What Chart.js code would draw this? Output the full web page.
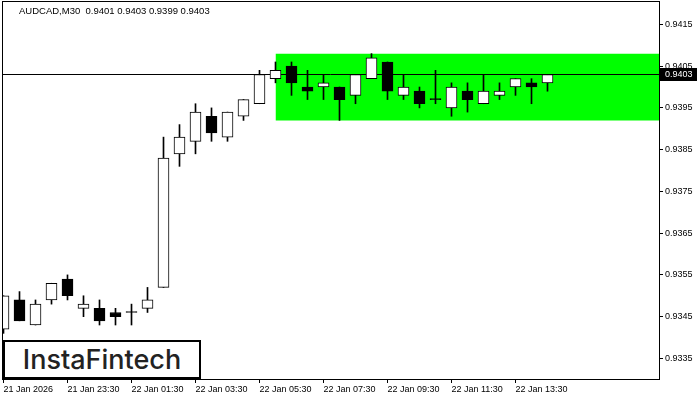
<!DOCTYPE html>
<html lang="en">
<head>
    <meta charset="UTF-8">
    <title>AUDCAD M30</title>
    <script src="https://cdn.jsdelivr.net/npm/chart.js"></script>
    <style>
        body { margin: 0; background: #fff; }
        #wrap { position: relative; width: 700px; height: 400px; }
        #header { position: absolute; left: 19px; top: 5px; font: 9.5px "Liberation Sans", sans-serif; color: #000; white-space: pre; }
        #logo { position: absolute; left: 3px; top: 340px; width: 198px; height: 39px; box-sizing: border-box;
                border: 2px solid #000; background: #fff; font: 500 27px "Inter", sans-serif; color: #222;
                text-align: center; line-height: 35px; }
    </style>
</head>
<body>
<div id="wrap">
    <canvas id="priceChart"></canvas>
    <div id="header"></div>
    <div id="logo">InstaFintech</div>
</div>

<script>
    const symbol = 'AUDCAD,M30';
    const opens  = [0.9342, 0.9349, 0.9343, 0.9349, 0.9354, 0.9347, 0.9347, 0.9346, 0.9346, 0.9347,
                    0.9352, 0.9384, 0.9387, 0.9393, 0.9388, 0.9393, 0.9396, 0.9402, 0.9405, 0.9400,
                    0.9400, 0.9400, 0.9398, 0.9402, 0.9406, 0.9398, 0.9399, 0.9397, 0.9395, 0.9399,
                    0.9396, 0.9398, 0.9400, 0.9401, 0.9401];
    const highs  = [0.9350, 0.9351, 0.9349, 0.9353, 0.9355, 0.9350, 0.9349, 0.9347, 0.9348, 0.9352,
                    0.9388, 0.9391, 0.9396, 0.9395, 0.9394, 0.9397, 0.9404, 0.9406, 0.9406, 0.9404,
                    0.9403, 0.9400, 0.9403, 0.9408, 0.9406, 0.9403, 0.9400, 0.9404, 0.9401, 0.9401,
                    0.9403, 0.9401, 0.9402, 0.9402, 0.9403];
    const lows   = [0.9341, 0.9344, 0.9343, 0.9348, 0.9349, 0.9345, 0.9343, 0.9343, 0.9343, 0.9346,
                    0.9352, 0.9381, 0.9384, 0.9387, 0.9387, 0.9392, 0.9396, 0.9401, 0.9398, 0.9397,
                    0.9397, 0.9392, 0.9396, 0.9402, 0.9397, 0.9397, 0.9395, 0.9396, 0.9393, 0.9394,
                    0.9396, 0.9397, 0.9398, 0.9396, 0.9399];
    const closes = [0.9350, 0.9344, 0.9348, 0.9353, 0.9350, 0.9348, 0.9344, 0.9345, 0.9346, 0.9349,
                    0.9383, 0.9388, 0.9394, 0.9389, 0.9394, 0.9397, 0.9403, 0.9404, 0.9401, 0.9399,
                    0.9401, 0.9397, 0.9403, 0.9407, 0.9399, 0.9400, 0.9396, 0.9397, 0.9400, 0.9397,
                    0.9399, 0.9399, 0.9402, 0.9400, 0.9403];

    // time axis: label text and the candle index it sits on
    const timeLabels = ['21 Jan 2026', '21 Jan 23:30', '22 Jan 01:30', '22 Jan 03:30', '22 Jan 05:30',
                        '22 Jan 07:30', '22 Jan 09:30', '22 Jan 11:30', '22 Jan 13:30'];
    const timeTickIdx = [0, 4, 8, 12, 16, 20, 24, 28, 32];
    const priceTicks = [0.9335, 0.9345, 0.9355, 0.9365, 0.9375, 0.9385, 0.9395, 0.9405, 0.9415];

    // rectangle (flat range)
    const zoneStart = 17;
    const zoneHigh = 0.9408;
    const zoneLow = 0.9392;

    const last = closes.length - 1;
    document.getElementById('header').textContent = symbol + '  ' +
        [opens[last], highs[last], lows[last], closes[last]].map(v => v.toFixed(4)).join(' ');

    // view window (16px per candle, 41.75px per 0.001)
    const xMin = -0.09375, xMax = 40.96875;
    const yMax = 0.9415 + 22.4 / 41750, yMin = 0.9415 - 354.6 / 41750;

    const bodies = opens.map((o, i) => ({ x: i, y: [o, closes[i]] }));
    const wicks = lows.map((l, i) => ({ x: i, y: [l, highs[i]] }));
    const bodyFill = opens.map((o, i) => closes[i] > o ? '#ffffff' : '#000000');

    const framePlugin = {
        id: 'frame',
        afterDraw(chart) {
            const { ctx, chartArea: a, scales } = chart;
            ctx.save();
            ctx.strokeStyle = '#000';
            ctx.lineWidth = 1;
            ctx.strokeRect(a.left + 0.5, a.top - 0.5, a.right - a.left, a.bottom - a.top + 1);
            // current price tag
            const y = Math.floor(scales.y.getPixelForValue(closes[last]));
            ctx.fillStyle = '#000';
            ctx.fillRect(a.right + 1, y - 6, 37, 13);
            ctx.fillStyle = '#fff';
            ctx.font = '9px "Liberation Sans"';
            ctx.textBaseline = 'middle';
            ctx.fillText(closes[last].toFixed(4), a.right + 6, y + 1);
            ctx.restore();
        }
    };

    const ctx = document.getElementById('priceChart').getContext('2d');
    Chart.defaults.font.family = '"Liberation Sans", sans-serif';
    Chart.defaults.font.size = 9;
    Chart.defaults.color = '#000';

    const chart = new Chart(ctx, {
        type: 'bar',
        data: {
            datasets: [
                {
                    type: 'line',
                    data: [{ x: zoneStart, y: zoneHigh }, { x: 45, y: zoneHigh }],
                    borderWidth: 0,
                    pointRadius: 0,
                    backgroundColor: '#00ff00',
                    fill: { value: zoneLow },
                    order: 4
                },
                {
                    type: 'line',
                    data: [{ x: -2, y: closes[last] }, { x: 45, y: closes[last] }],
                    borderColor: '#000',
                    borderWidth: 1,
                    pointRadius: 0,
                    fill: false,
                    order: 3
                },
                {
                    data: wicks,
                    backgroundColor: '#000',
                    borderWidth: 0,
                    barThickness: 1,
                    grouped: false,
                    order: 2
                },
                {
                    data: bodies,
                    backgroundColor: bodyFill,
                    borderColor: '#000',
                    borderWidth: 1,
                    borderSkipped: false,
                    barThickness: 11,
                    minBarLength: 1,
                    grouped: false,
                    order: 1
                }
            ]
        },
        options: {
            responsive: true,
            maintainAspectRatio: false,
            animation: false,
            layout: { padding: { left: 2, top: 2, right: 0, bottom: 0 } },
            plugins: { legend: { display: false }, tooltip: { enabled: false } },
            scales: {
                x: {
                    type: 'linear',
                    offset: false,
                    min: xMin,
                    max: xMax,
                    afterBuildTicks: s => { s.ticks = timeTickIdx.map(v => ({ value: v })); },
                    afterFit: s => { s.height = 21; s.paddingLeft = 0; s.paddingRight = 0; },
                    ticks: {
                        autoSkip: false,
                        maxRotation: 0,
                        align: 'start',
                        padding: 1,
                        callback: v => timeLabels[timeTickIdx.indexOf(v)]
                    },
                    grid: { offset: false, drawOnChartArea: false, drawTicks: true, tickLength: 4, color: '#000' },
                    border: { display: false }
                },
                y: {
                    position: 'right',
                    min: yMin,
                    max: yMax,
                    afterBuildTicks: s => { s.ticks = priceTicks.map(v => ({ value: v })); },
                    afterFit: s => { s.width = 41; s.paddingTop = 0; s.paddingBottom = 0; },
                    ticks: { padding: 2, callback: v => v.toFixed(4) },
                    grid: { drawOnChartArea: false, drawTicks: true, tickLength: 4, color: '#000' },
                    border: { display: false }
                }
            }
        },
        plugins: [framePlugin]
    });
</script>
</body>
</html>
